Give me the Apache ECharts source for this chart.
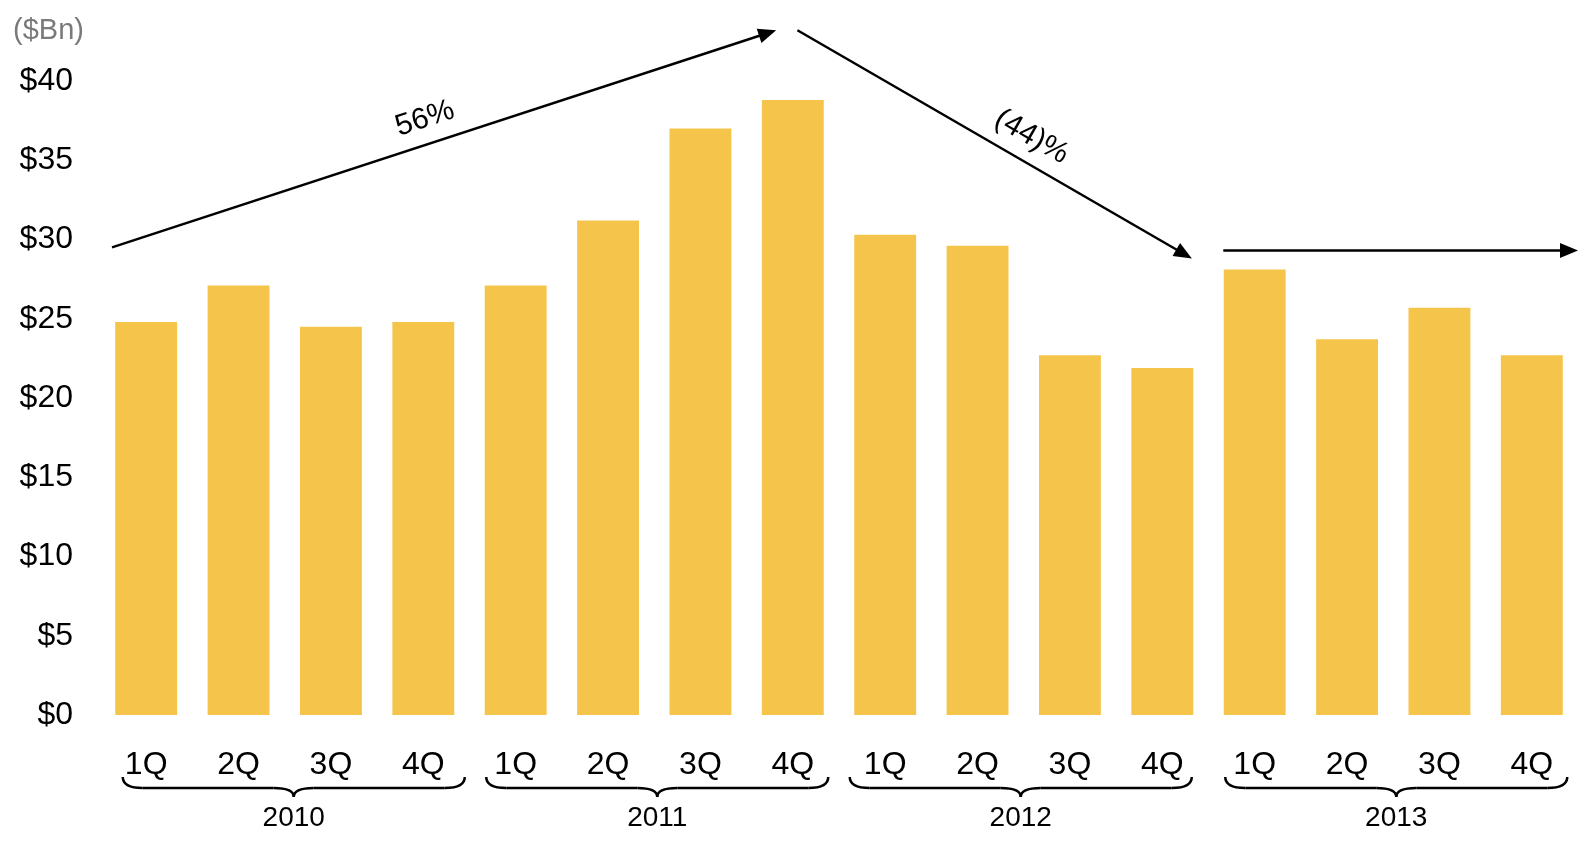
<!DOCTYPE html>
<html>
<head>
<meta charset="utf-8">
<script src="https://cdn.jsdelivr.net/npm/echarts@6/dist/echarts.min.js"></script>
<style>
  html, body { margin: 0; padding: 0; background: #fff; }
  #chart { width: 1594px; height: 845px; }
</style>
</head>
<body>
<div id="chart"></div>
<script>
// Quarterly values, $Bn
const years = ['2010', '2011', '2012', '2013'];
const quarters = ['1Q', '2Q', '3Q', '4Q'];
const values = [
  24.8, 27.1, 24.5, 24.8,
  27.1, 31.2, 37.0, 38.8,
  30.3, 29.6, 22.7, 21.9,
  28.1, 23.7, 25.7, 22.7
];
const yMin = 0;
const yMax = 40;
const yStep = 5;
const unitLabel = '($Bn)';

// Trend arrows, anchored in data space: [category index, value]
const trendFrom = [[-0.37, 29.5], [7.05, 43.2], [11.66, 29.3]];
const trendTo = [[6.82, 43.2], [11.32, 28.8], [15.5, 29.3]];
const trendText = ['56%', '(44)%', ''];
const trendTextPos = [0.483, 0.562, 0.5];

const FONT = '"Liberation Sans", Arial, Helvetica, sans-serif';
const categories = [];
years.forEach(y => quarters.forEach(q => categories.push(y + ' ' + q)));

const chart = echarts.init(document.getElementById('chart'), null, { renderer: 'canvas' });

chart.setOption({
  animation: false,
  backgroundColor: '#ffffff',
  textStyle: { fontFamily: FONT },
  grid: { left: 100, right: 16, top: 81, bottom: 130, containLabel: false },
  xAxis: {
    type: 'category',
    data: categories,
    axisLine: { show: false },
    axisTick: { show: false },
    splitLine: { show: false },
    axisLabel: {
      interval: 0,
      margin: 34,
      fontSize: 32,
      color: '#000',
      fontFamily: FONT,
      formatter: v => v.split(' ')[1]
    }
  },
  yAxis: {
    type: 'value',
    min: yMin,
    max: yMax,
    interval: yStep,
    axisLine: { show: false },
    axisTick: { show: false },
    splitLine: { show: false },
    axisLabel: {
      margin: 27,
      fontSize: 32,
      color: '#000',
      fontFamily: FONT,
      formatter: v => '$' + v
    }
  },
  series: [{
    type: 'bar',
    data: values,
    barCategoryGap: '33%',
    itemStyle: { color: '#F5C54B' }
  }]
});

// Annotation layer: trend arrows, quarter braces and year labels
const cx0 = chart.convertToPixel({ xAxisIndex: 0 }, 0);
const band = chart.convertToPixel({ xAxisIndex: 0 }, 1) - cx0;
const yBase = chart.convertToPixel({ yAxisIndex: 0 }, yMin);
const yTop = chart.convertToPixel({ yAxisIndex: 0 }, yMax);
const px = i => cx0 + i * band;
const py = v => yBase + (v - yMin) * (yTop - yBase) / (yMax - yMin);

const graphics = [];
const STROKE = 2.5;
const lineStyle = { stroke: '#000', lineWidth: STROKE, fill: null };

function addArrow(a, b, head, half) {
  const dx = b[0] - a[0], dy = b[1] - a[1];
  const len = Math.hypot(dx, dy);
  const ux = dx / len, uy = dy / len;
  const bx = b[0] - ux * head, by = b[1] - uy * head;
  graphics.push({
    type: 'line',
    shape: { x1: a[0], y1: a[1], x2: bx + ux * 2, y2: by + uy * 2 },
    style: { stroke: '#000', lineWidth: STROKE },
    silent: true
  });
  graphics.push({
    type: 'polygon',
    shape: { points: [[b[0], b[1]], [bx - uy * half, by + ux * half], [bx + uy * half, by - ux * half]] },
    style: { fill: '#000' },
    silent: true
  });
}

trendFrom.forEach((f, k) => {
  const a = [px(f[0]), py(f[1])];
  const b = [px(trendTo[k][0]), py(trendTo[k][1])];
  addArrow(a, b, 18, 7.5);
  if (trendText[k]) {
    const t = trendTextPos[k];
    const mx = a[0] + (b[0] - a[0]) * t, my = a[1] + (b[1] - a[1]) * t;
    const ang = Math.atan2(b[1] - a[1], b[0] - a[0]);
    // offset perpendicular to the line, on its upper side
    let nx = Math.sin(ang), ny = -Math.cos(ang);
    if (ny > 0) { nx = -nx; ny = -ny; }
    graphics.push({
      type: 'text',
      x: mx + nx * 25,
      y: my + ny * 25,
      rotation: -ang,
      style: {
        text: trendText[k],
        fill: '#000',
        font: '30px ' + FONT,
        align: 'center',
        verticalAlign: 'middle'
      },
      silent: true
    });
  }
});

// Brace under each year's quarters
function addCurve(x1, y1, cx, cy, x2, y2) {
  graphics.push({
    type: 'bezierCurve',
    shape: { x1: x1, y1: y1, x2: x2, y2: y2, cpx1: cx, cpy1: cy },
    style: lineStyle,
    silent: true
  });
}
function addSeg(x1, y1, x2, y2) {
  graphics.push({
    type: 'line',
    shape: { x1: x1, y1: y1, x2: x2, y2: y2 },
    style: lineStyle,
    silent: true
  });
}

const braceHalf = 171;            // half width of a brace, px
const braceShift = [9, 3, -3, 3]; // nudge of each brace from its group centre, px

years.forEach((yr, g) => {
  const first = g * 4, last = g * 4 + 3;
  const xc = (px(first) + px(last)) / 2 + braceShift[g];
  const x0 = xc - braceHalf, x1 = xc + braceHalf;
  const yEnd = yBase + 62, yMid = yBase + 73, yTip = yBase + 82;
  const r = 20;
  addCurve(x0, yEnd, x0, yMid, x0 + r, yMid);
  addSeg(x0 + r, yMid, xc - r, yMid);
  addCurve(xc - r, yMid, xc, yMid, xc, yTip);
  addCurve(xc, yTip, xc, yMid, xc + r, yMid);
  addSeg(xc + r, yMid, x1 - r, yMid);
  addCurve(x1 - r, yMid, x1, yMid, x1, yEnd);
  graphics.push({
    type: 'text',
    x: xc,
    y: yBase + 103,
    style: {
      text: yr,
      fill: '#000',
      font: '28px ' + FONT,
      align: 'center',
      verticalAlign: 'middle'
    },
    silent: true
  });
});

// Unit label above the value axis
graphics.push({
  type: 'text',
  x: 13,
  y: 31,
  style: {
    text: unitLabel,
    fill: '#7a7a7a',
    font: '29px ' + FONT,
    align: 'left',
    verticalAlign: 'middle'
  },
  silent: true
});

chart.setOption({ graphic: graphics });
</script>
</body>
</html>
